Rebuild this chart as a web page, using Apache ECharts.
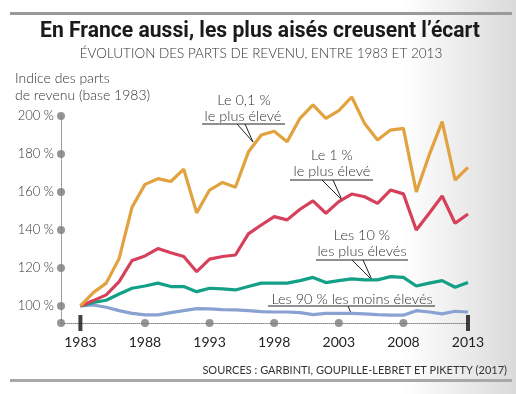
<!DOCTYPE html>
<html><head><meta charset="utf-8">
<script src="https://cdn.jsdelivr.net/npm/echarts@6/dist/echarts.min.js"></script>
<style>html,body{margin:0;padding:0;background:#fff}#c{width:516px;height:394px}</style>
</head><body><div id="c"></div>
<script>
const years = [1983,1984,1985,1986,1987,1988,1989,1990,1991,1992,1993,1994,1995,1996,1997,1998,1999,2000,2001,2002,2003,2004,2005,2006,2007,2008,2009,2010,2011,2012,2013];
const top01 = [100,107,112,125,152,164,167,165.5,172,149,161,165,162.5,181,190,192,186.5,198.8,205.8,198.8,202.8,210,196,187.4,192.6,193.5,160,179.5,197,166.3,173];
const top1 = [100,102.8,105.8,112.8,123.9,126.3,130.2,128,126,118,124.6,126,126.8,137.9,142.6,147,145.3,150.9,155.3,148.8,154.9,158.9,157.5,154,161,159,140,148.8,157.9,143.5,148.4];
const top10 = [100,101.8,103,106.3,109.3,110.5,112,110.2,110.2,107.5,109.3,109,108.4,110.2,112,112,112,113.3,115,112.3,113.3,114.2,113.7,113.7,115.4,115,110.5,112,113.3,109.8,112.3];
const bottom90 = [100,100.5,99.3,97.5,96.1,95.3,95.3,96.5,97.5,98.6,98.4,98,97.9,97.5,97,96.8,96.8,96.5,95.4,96.1,96.1,96.1,95.8,95.4,95.1,95.1,97.5,96.8,95.8,97.2,96.8];
const xTickLabels = [1983,1988,1993,1998,2003,2008,2013];
const yTickLabels = [100,120,140,160,180,200];
const xMin = 1981.5, xMax = 2013, yMin = 91, yMax = 200;

const pair = (arr) => years.map((y, i) => [y, arr[i]]);
const F = '"Lato","Open Sans",sans-serif';

const TITLE = 'En France aussi, les plus aisés creusent l\u2019écart';
const TITLE_FONT = 'bold 22px Roboto,"Liberation Sans",sans-serif';
const mctx = document.createElement('canvas').getContext('2d');
mctx.font = TITLE_FONT;
const titleScale = 440 / mctx.measureText(TITLE).width;

const chart = echarts.init(document.getElementById('c'), null, {renderer: 'canvas'});
const lineW = 3.2;
const annText = (x, y, t) => ({type: 'text', x: x, y: y, style: {text: t, font: '300 14.5px ' + F, fill: '#333', align: 'center', verticalAlign: 'middle'}});
const seg = (x1, y1, x2, y2, w) => ({type: 'line', shape: {x1, y1, x2, y2}, style: {stroke: '#222', lineWidth: w || 1}});

chart.setOption({
  backgroundColor: {type: 'linear', x: 0, y: 0, x2: 1, y2: 0, colorStops: [{offset: 0, color: '#ffffff'}, {offset: 0.78, color: '#ffffff'}, {offset: 1, color: '#dadada'}]},
  animation: false,
  grid: {left: 61, right: 48, top: 116, bottom: 71},
  xAxis: {
    type: 'value', min: xMin, max: xMax,
    splitLine: {show: false}, axisTick: {show: false},
    axisLine: {show: true, lineStyle: {color: '#888', type: 'dotted', width: 1}},
    axisLabel: {customValues: xTickLabels, formatter: v => String(v), color: '#222', fontFamily: F, fontSize: 14, margin: 12}
  },
  yAxis: {
    type: 'value', min: yMin, max: yMax,
    splitLine: {show: false}, axisTick: {show: false},
    axisLine: {show: true, lineStyle: {color: '#888', type: 'dotted', width: 1}},
    axisLabel: {customValues: yTickLabels, formatter: v => v + ' %', color: '#333', fontFamily: F, fontSize: 13, fontWeight: 300, margin: 7}
  },
  series: [
    {type: 'scatter', clip: false, symbolSize: 8, itemStyle: {color: '#7a7a7a'}, z: 1,
     data: yTickLabels.map(v => [xMin, v]).concat([[xMin, yMin]])},
    {type: 'scatter', clip: false, symbolSize: 8, itemStyle: {color: '#7a7a7a'}, z: 1,
     data: xTickLabels.slice(1, -1).map(v => [v, yMin])},
    {type: 'scatter', clip: false, symbol: 'rect', symbolSize: [4, 16], itemStyle: {color: '#111'}, z: 1,
     data: [[xTickLabels[0], yMin], [xTickLabels[xTickLabels.length - 1], yMin]]},
    {name: 'Les 90 %', type: 'line', clip: false, data: pair(bottom90), showSymbol: false, lineStyle: {color: '#8aa2d2', width: lineW}, z: 3},
    {name: 'Les 10 %', type: 'line', clip: false, data: pair(top10), showSymbol: false, lineStyle: {color: '#14a086', width: lineW}, z: 4},
    {name: 'Le 1 %', type: 'line', clip: false, data: pair(top1), showSymbol: false, lineStyle: {color: '#d6405a', width: lineW}, z: 5},
    {name: 'Le 0,1 %', type: 'line', clip: false, data: pair(top01), showSymbol: false, lineStyle: {color: '#e2a240', width: lineW}, z: 6}
  ],
  graphic: [
    {type: 'rect', shape: {x: 10, y: 12, width: 502, height: 3}, style: {fill: '#9a9a9a'}},
    {type: 'rect', shape: {x: 10, y: 379, width: 502, height: 3}, style: {fill: '#a8a8a8'}},
    {type: 'text', x: 260, y: 31, scaleX: titleScale, style: {text: TITLE, font: TITLE_FONT, fill: '#1a1a1a', align: 'center', verticalAlign: 'middle'}},
    {type: 'text', x: 261, y: 54, style: {text: 'ÉVOLUTION DES PARTS DE REVENU, ENTRE 1983 ET 2013', font: '300 13.5px ' + F, fill: '#333', align: 'center', verticalAlign: 'middle'}},
    {type: 'text', x: 15, y: 78, style: {text: 'Indice des parts', font: '300 14px ' + F, fill: '#333', align: 'left', verticalAlign: 'middle'}},
    {type: 'text', x: 15, y: 95, style: {text: 'de revenu (base 1983)', font: '300 14px ' + F, fill: '#333', align: 'left', verticalAlign: 'middle'}},
    {type: 'text', x: 507, y: 370, style: {text: 'SOURCES : GARBINTI, GOUPILLE-LEBRET ET PIKETTY (2017)', font: '11px ' + F, fill: '#333', align: 'right', verticalAlign: 'middle'}},
    annText(244, 100, 'Le 0,1 %'), annText(243, 116, 'le plus élevé'),
    seg(202, 124, 285, 124), seg(237, 124, 253, 142), seg(245, 124, 253, 142),
    annText(332, 155, 'Le 1 %'), annText(332, 171, 'le plus élevé'),
    seg(290, 180, 373, 180), seg(322, 180, 342, 200), seg(333, 180, 342, 200),
    annText(362, 235, 'Les 10 %'), annText(362, 251, 'les plus élevés'),
    seg(316, 260, 408, 260), seg(352, 260, 372, 280), seg(363, 260, 372, 280),
    annText(352, 299, 'Les 90 % les moins élevés'),
    seg(268, 306, 435, 306), seg(348, 306, 351, 313)
  ]
});
</script></body></html>
